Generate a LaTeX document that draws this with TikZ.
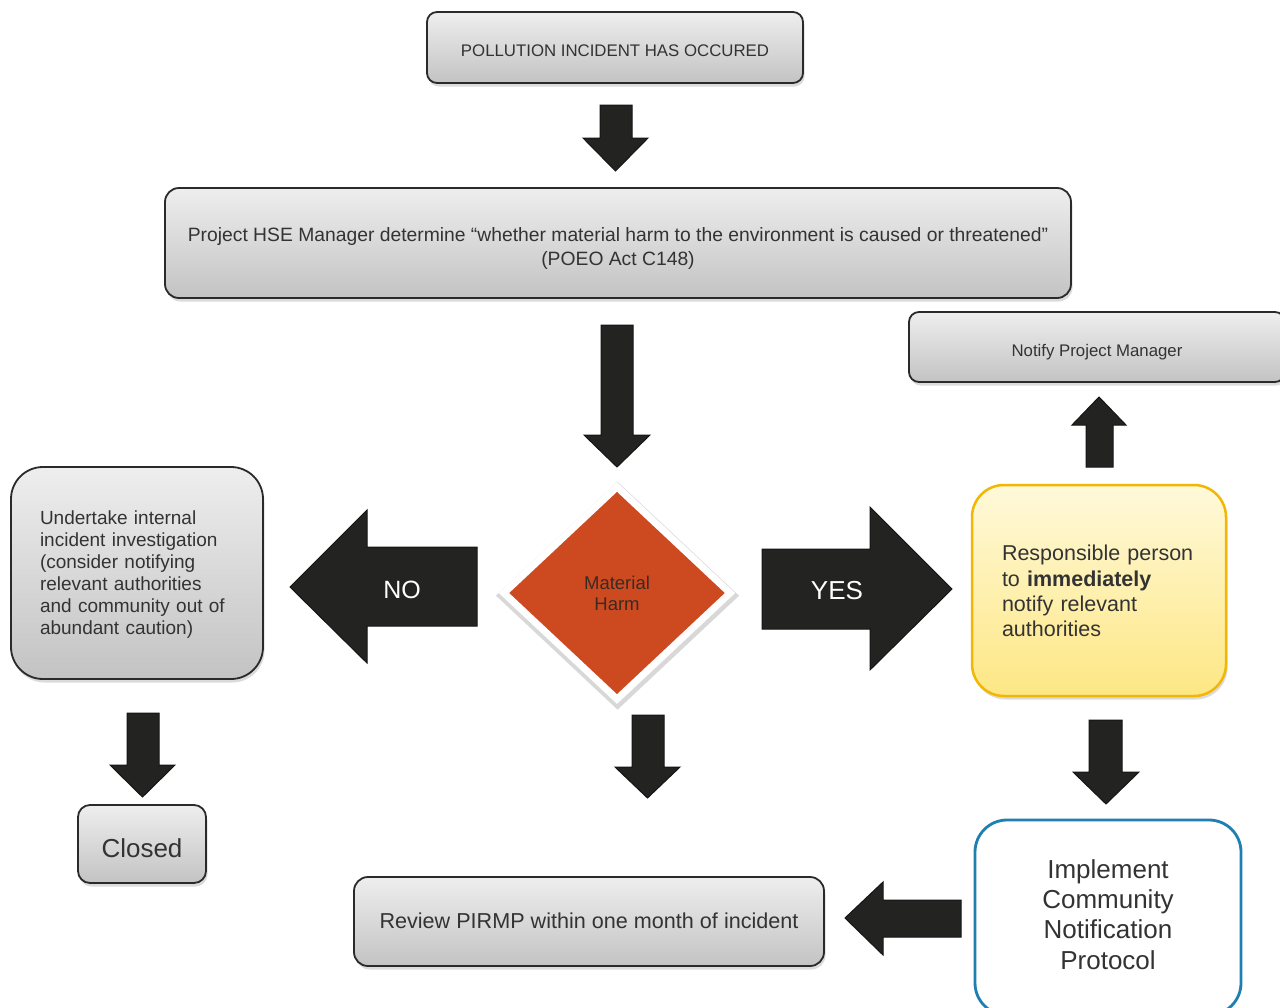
\documentclass[tikz,border=0pt]{standalone}
\usepackage{fontspec}
\setmainfont{Liberation Sans}
\usetikzlibrary{shapes.geometric,shadows}
\definecolor{txt}{HTML}{333333}
\definecolor{boxline}{HTML}{2A2A2A}
\definecolor{gtop}{HTML}{EEEEEE}
\definecolor{gbot}{HTML}{C3C3C3}
\definecolor{arrowc}{HTML}{232321}
\definecolor{arrowline}{HTML}{151515}
\definecolor{harmc}{HTML}{CD4A21}
\definecolor{harmtxt}{HTML}{3B2A22}
\definecolor{ytop}{HTML}{FFF9DA}
\definecolor{ybot}{HTML}{FDE784}
\definecolor{yline}{HTML}{F2B705}
\definecolor{implc}{HTML}{1F7FB0}
\begin{document}
\begin{tikzpicture}[x=1pt,y=-1pt,
  shadowed/.style={drop shadow={opacity=0.28,shadow xshift=1.5pt,shadow yshift=-3.5pt}},
  graybox/.style={draw=boxline, line width=1.8pt, top color=gtop, bottom color=gbot,
     text=txt, inner sep=0pt, align=center, shadowed},
  blk/.style={fill=arrowc, draw=arrowline, line width=1pt, line join=miter},
  arrowtext/.style={text=white, font=\fontsize{25}{28}\selectfont}]
\useasboundingbox (0,0) rectangle (1280,1007);
\fill[white] (0,0) rectangle (1280,1007);

% boxes
\node[graybox, rounded corners=10pt, minimum width=376pt, minimum height=71pt,
  text height=17.6pt, text depth=0pt,
  font=\fontsize{16.8}{20}\selectfont] (start) at (615,47.5) {POLLUTION INCIDENT HAS OCCURED};
\node[graybox, rounded corners=14pt, minimum width=906pt, minimum height=110pt,
  align=flush center, text width=900pt, text height=16pt, text depth=20pt,
  font=\fontsize{19.3}{24}\selectfont] (hse) at (618,243)
  {Project HSE Manager determine “whether material harm to the environment is caused or threatened”\\(POEO Act C148)};
\node[graybox, rounded corners=10pt, minimum width=376pt, minimum height=70pt,
  text height=19.4pt, text depth=0pt,
  font=\fontsize{16.8}{20}\selectfont] (pm) at (1097,347) {Notify Project Manager};
\node[graybox, rounded corners=32pt, minimum width=252pt, minimum height=212pt,
  text height=14pt, text depth=111.4pt,
  align=left, text width=194pt, font=\fontsize{19}{22.1}\selectfont] (inv) at (137,573)
  {Undertake internal\\incident investigation\\(consider notifying\\relevant authorities\\and community out of\\abundant caution)};
\node[draw=yline, line width=2.5pt, rounded corners=32pt, top color=ytop, bottom color=ybot,
  shadowed, minimum width=254pt, minimum height=211pt, inner sep=0pt, text=txt,
  text height=16pt, text depth=75.6pt,
  align=left, text width=194pt, font=\fontsize{21.5}{25.3}\selectfont] (resp) at (1099,590.5)
  {Responsible person\\to \textbf{immediately}\\notify relevant\\authorities};
\node[graybox, rounded corners=12pt, minimum width=128pt, minimum height=78pt,
  text height=27.4pt, text depth=0pt,
  font=\fontsize{26}{30}\selectfont] (closed) at (142,844) {Closed};
\node[graybox, rounded corners=14pt, minimum width=470pt, minimum height=89pt,
  text height=13.6pt, text depth=0pt,
  font=\fontsize{21.6}{26}\selectfont] (rev) at (589,921.5) {Review PIRMP within one month of incident};
\node[draw=implc, line width=2.8pt, rounded corners=32pt, fill=white, minimum width=266pt,
  minimum height=195pt, inner sep=0pt, align=flush center, text=txt,
  text width=220pt, text height=19pt, text depth=97.4pt,
  font=\fontsize{26}{30.3}\selectfont] (impl) at (1108,917.5)
  {Implement\\Community\\Notification\\Protocol};

% diamond
\node[diamond, draw=white, line width=7pt, fill=harmc, minimum width=229pt, minimum height=215pt,
  inner sep=0pt, align=flush center, text=harmtxt, font=\fontsize{18.5}{21.4}\selectfont,
  text width=100pt, text height=14pt, text depth=21.4pt,
  drop shadow={opacity=0.3,shadow xshift=0.5pt,shadow yshift=-2.5pt,shadow scale=1.075}] (harm) at (617,593) {Material\\Harm};

% block arrows
\draw[blk] (600,105) -- (632,105) -- (632,138) -- (648,138) -- (615.5,171) -- (583,138) -- (600,138) -- cycle;
\draw[blk] (601,325) -- (633,325) -- (633,435) -- (650,435) -- (617,467) -- (584,435) -- (601,435) -- cycle;
\draw[blk] (1086,467) -- (1113,467) -- (1113,425) -- (1126,425) -- (1099,397) -- (1072,425) -- (1086,425) -- cycle;
\draw[blk] (477,547) -- (477,626) -- (367,626) -- (367,663) -- (290,587) -- (367,510) -- (367,547) -- cycle;
\draw[blk] (762,549) -- (762,629) -- (870,629) -- (870,670) -- (952,589) -- (870,507) -- (870,549) -- cycle;
\draw[blk] (127,713) -- (159,713) -- (159,765) -- (175,765) -- (142.5,797) -- (110,765) -- (127,765) -- cycle;
\draw[blk] (632,715) -- (664,715) -- (664,767) -- (680,767) -- (647.5,798) -- (615,767) -- (632,767) -- cycle;
\draw[blk] (1089,720) -- (1122,720) -- (1122,772) -- (1139,772) -- (1106,804) -- (1073,772) -- (1089,772) -- cycle;
\draw[blk] (961,900) -- (961,937) -- (883,937) -- (883,955) -- (845,918) -- (883,882) -- (883,900) -- cycle;

\node[arrowtext] (no) at (402,590) {NO};
\node[arrowtext, font=\fontsize{26}{28}\selectfont] (yes) at (837,591) {YES};
\end{tikzpicture}
\end{document}
